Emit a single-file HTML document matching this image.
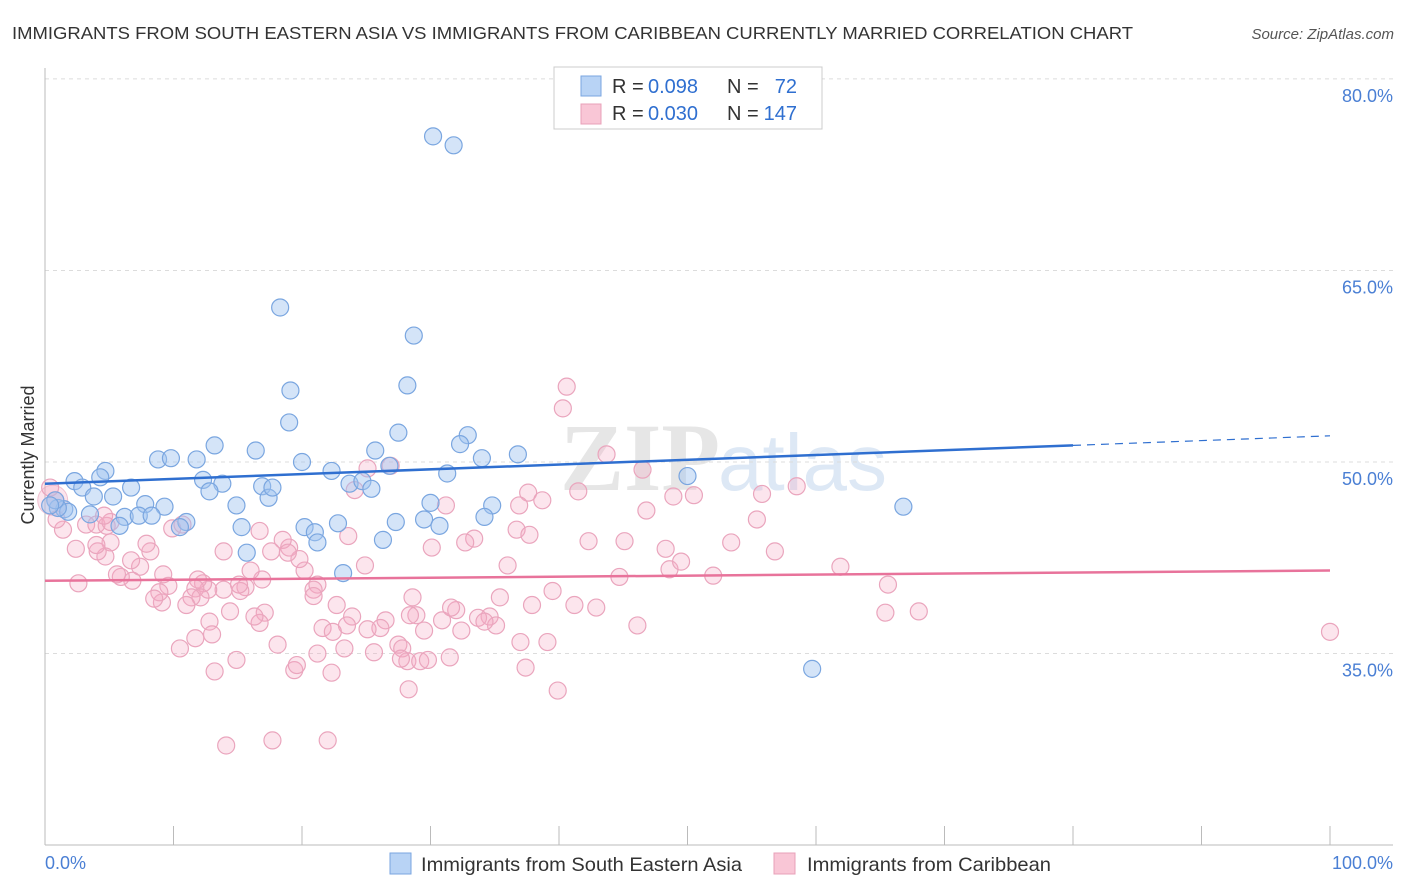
<!DOCTYPE html>
<html><head><meta charset="utf-8"><style>
body{margin:0;background:#fff;font-family:"Liberation Sans",sans-serif;}
svg{display:block}
</style></head><body>
<svg id="chart" width="1406" height="892">
<text x="12" y="39" font-size="17.5" fill="#333" textLength="1121" lengthAdjust="spacingAndGlyphs">IMMIGRANTS FROM SOUTH EASTERN ASIA VS IMMIGRANTS FROM CARIBBEAN CURRENTLY MARRIED CORRELATION CHART</text>
<text x="1394" y="39" font-size="15" fill="#555" font-style="italic" text-anchor="end">Source: ZipAtlas.com</text>
<text x="720" y="490" font-size="96" fill="#e6e6e6" text-anchor="end" font-family="Liberation Serif,serif" font-weight="bold">ZIP</text>
<text x="718" y="490" font-size="80" fill="#dde8f5">atlas</text>
<g id="grid"></g><g id="axes"></g><g id="pts"></g><g id="lines"></g>
<text x="34" y="455" font-size="18" fill="#333" text-anchor="middle" transform="rotate(-90 34 455)">Currently Married</text>
<text x="45" y="869" font-size="18" fill="#4a7fd4">0.0%</text>
<text x="1393" y="869" font-size="18" fill="#4a7fd4" text-anchor="end">100.0%</text>
<g>
<rect x="554" y="67" width="268" height="62" fill="#fff" stroke="#ccc"/>
<rect x="581" y="76" width="20" height="20" fill="#b8d3f5" stroke="#7aa6e0"/>
<rect x="581" y="104" width="20" height="20" fill="#f9c6d6" stroke="#e8a0b8"/>
<text x="612" y="93" font-size="20" fill="#333">R =</text>
<text x="648" y="93" font-size="20" fill="#2f6fd0">0.098</text>
<text x="727" y="93" font-size="20" fill="#333">N =</text>
<text x="797" y="93" font-size="20" fill="#2f6fd0" text-anchor="end">72</text>
<text x="612" y="120" font-size="20" fill="#333">R =</text>
<text x="648" y="120" font-size="20" fill="#2f6fd0">0.030</text>
<text x="727" y="120" font-size="20" fill="#333">N =</text>
<text x="797" y="120" font-size="20" fill="#2f6fd0" text-anchor="end">147</text>
</g>
<g>
<rect x="390" y="853" width="21" height="21" fill="#b8d3f5" stroke="#7aa6e0"/>
<text x="421" y="871" font-size="19.5" fill="#333" textLength="321" lengthAdjust="spacingAndGlyphs">Immigrants from South Eastern Asia</text>
<rect x="774" y="853" width="21" height="21" fill="#f9c6d6" stroke="#e8a0b8"/>
<text x="807" y="871" font-size="19.5" fill="#333" textLength="244" lengthAdjust="spacingAndGlyphs">Immigrants from Caribbean</text>
</g>
</svg>
<script>
const yTicks=[35,50,65,80];
const xTickCount=10;
const blueX=[30.2,31.8,18.3,28.7,28.2,19.1,19.0,27.5,13.2,16.4,25.7,32.9,32.3,36.8,34.0,8.8,9.8,11.8,20.0,26.8,4.7,2.3,2.9,4.3,6.7,12.3,13.8,16.9,22.3,23.7,24.7,25.4,31.3,50.0,3.8,5.3,12.8,17.4,17.7,14.9,7.8,9.3,1.5,1.8,1.0,3.5,6.2,7.3,8.3,11.0,10.5,15.3,20.2,22.8,21.0,21.2,27.3,29.5,30.7,34.8,34.2,30.0,26.3,15.7,23.2,66.8,59.7,5.8,0.8,0.4];
const blueY=[75.5,74.8,62.1,59.9,56.0,55.6,53.1,52.3,51.3,50.9,50.9,52.1,51.4,50.6,50.3,50.2,50.3,50.2,50.0,49.7,49.3,48.5,48.0,48.8,48.0,48.6,48.3,48.1,49.3,48.3,48.5,47.9,49.1,48.9,47.3,47.3,47.7,47.2,48.0,46.6,46.7,46.5,46.3,46.1,46.4,45.9,45.7,45.8,45.8,45.3,44.9,44.9,44.9,45.2,44.5,43.7,45.3,45.5,45.0,46.6,45.7,46.8,43.9,42.9,41.3,46.5,33.8,45.0,47.0,46.6];
const pinkX=[40.6,40.3,43.7,46.5,26.9,25.1,24.1,37.6,41.5,38.7,31.2,36.9,46.8,48.9,50.5,55.8,58.5,55.4,53.4,56.8,48.3,48.6,49.5,52.0,61.9,65.6,65.4,68.0,100.0,44.7,42.3,45.1,36.7,33.4,32.7,36.0,39.5,42.9,41.2,37.9,35.4,34.6,35.1,33.7,32.0,30.9,29.5,28.9,28.6,26.5,26.1,25.1,23.9,23.5,22.7,21.6,21.2,20.9,20.2,19.0,17.6,18.5,16.9,16.0,17.1,16.7,16.3,15.6,15.2,14.4,13.9,12.7,12.3,11.9,11.7,12.1,11.4,11.0,9.6,9.1,8.9,8.5,9.2,8.2,7.9,7.4,6.8,6.7,5.9,5.6,5.1,4.7,4.1,4.0,3.2,2.4,2.6,1.4,0.8,0.4,0.9,4.0,4.8,5.1,4.6,9.9,10.7,12.8,11.7,10.5,13.0,13.2,14.9,14.1,17.7,22.0,18.1,19.4,19.6,21.2,22.3,23.3,25.6,27.5,27.8,28.2,29.2,29.8,31.5,28.3,32.4,37.0,39.1,37.4,39.9,46.1,13.9,15.1,16.7,23.6,24.9,28.4,19.8,20.9,22.4,27.7,30.1,37.7,31.6,34.2,18.9];
const pinkY=[55.9,54.2,50.6,49.4,49.7,49.5,47.8,47.6,47.7,47.0,46.6,46.6,46.2,47.3,47.4,47.5,48.1,45.5,43.7,43.0,43.2,41.6,42.2,41.1,41.8,40.4,38.2,38.3,36.7,41.0,43.8,43.8,44.7,44.0,43.7,41.9,39.9,38.6,38.8,38.8,39.4,37.9,37.2,37.8,38.4,37.6,36.8,38.0,39.4,37.6,37.0,36.9,37.9,37.2,38.8,37.0,40.4,40.0,41.5,43.3,43.0,43.9,40.8,41.5,38.2,37.4,37.9,40.2,39.9,38.3,40.0,40.0,40.5,40.8,40.1,39.4,39.4,38.8,40.3,39.0,39.8,39.3,41.2,43.0,43.6,41.8,40.7,42.3,41.0,41.2,43.7,42.6,43.0,43.5,45.1,43.2,40.5,44.7,47.0,48.0,45.5,45.1,45.0,45.3,45.8,44.8,45.1,37.5,36.2,35.4,36.5,33.6,34.5,27.8,28.2,28.2,35.7,33.7,34.1,35.0,33.5,35.4,35.1,35.7,35.4,34.4,34.4,34.5,34.7,32.2,36.8,35.9,35.9,33.9,32.1,37.2,43.0,40.4,44.6,44.2,41.9,38.0,42.4,39.5,36.7,34.6,43.3,44.3,38.6,37.5,42.9];
const blueTrend=[48.3,0.0375];
const pinkTrend=[40.7,0.008];
const NS="http://www.w3.org/2000/svg";
const X0=45,X1=1330,YREF=462,PPU=12.77;
function sx(v){return X0+(X1-X0)*v/100;}
function sy(v){return YREF-(v-50)*PPU;}
function mk(tag,attrs,parent){const e=document.createElementNS(NS,tag);for(const k in attrs)e.setAttribute(k,attrs[k]);parent.appendChild(e);return e;}
const grid=document.getElementById('grid'),axes=document.getElementById('axes'),pts=document.getElementById('pts'),lines=document.getElementById('lines'),svg=document.getElementById('chart');
yTicks.forEach(t=>{
 const l=mk('line',{x1:45,x2:1393,y1:sy(t),y2:sy(t),stroke:'#dcdcdc','stroke-dasharray':'4,4'},grid);
 
 
 const tx=mk('text',{x:1393,y:sy(t)+23,'font-size':18,fill:'#4a7fd4','text-anchor':'end'},svg);
 tx.textContent=t.toFixed(1)+'%';
 
 
});
const ya=mk('line',{x1:45,x2:45,y1:68,y2:845,stroke:'#bbb'},axes);


const xa=mk('line',{x1:45,x2:1393,y1:845,y2:845,stroke:'#bbb'},axes);


for(let i=0;i<=xTickCount;i++){
 const t=mk('line',{x1:sx(i*10),x2:sx(i*10),y1:826,y2:845,stroke:'#bbb'},axes);
 
 
}
const big=mk('circle',{cx:sx(0.6),cy:sy(47),r:15,fill:'rgba(244,170,195,0.3)',stroke:'rgba(232,160,184,0.6)'},pts);


pinkX.forEach((x,i)=>{
 const c=mk('circle',{cx:sx(x),cy:sy(pinkY[i]),r:8.5,fill:'rgba(244,170,195,0.3)',stroke:'#eaa5bd','stroke-width':1.2},pts);
 
 
});
blueX.forEach((x,i)=>{
 const c=mk('circle',{cx:sx(x),cy:sy(blueY[i]),r:8.5,fill:'rgba(160,196,240,0.45)',stroke:'#7aa6e0','stroke-width':1.2},pts);
 
 
});
const bl=mk('line',{x1:sx(0),y1:sy(blueTrend[0]),x2:sx(80),y2:sy(blueTrend[0]+80*blueTrend[1]),stroke:'#2f6fd0','stroke-width':2.5},lines);


const bd=mk('line',{x1:sx(80),y1:sy(blueTrend[0]+80*blueTrend[1]),x2:sx(100),y2:sy(blueTrend[0]+100*blueTrend[1]),stroke:'#2f6fd0','stroke-width':1.2,'stroke-dasharray':'8,6'},lines);


const pl=mk('line',{x1:sx(0),y1:sy(pinkTrend[0]),x2:sx(100),y2:sy(pinkTrend[0]+100*pinkTrend[1]),stroke:'#e8739b','stroke-width':2.5},lines);


</script>
</body></html>
